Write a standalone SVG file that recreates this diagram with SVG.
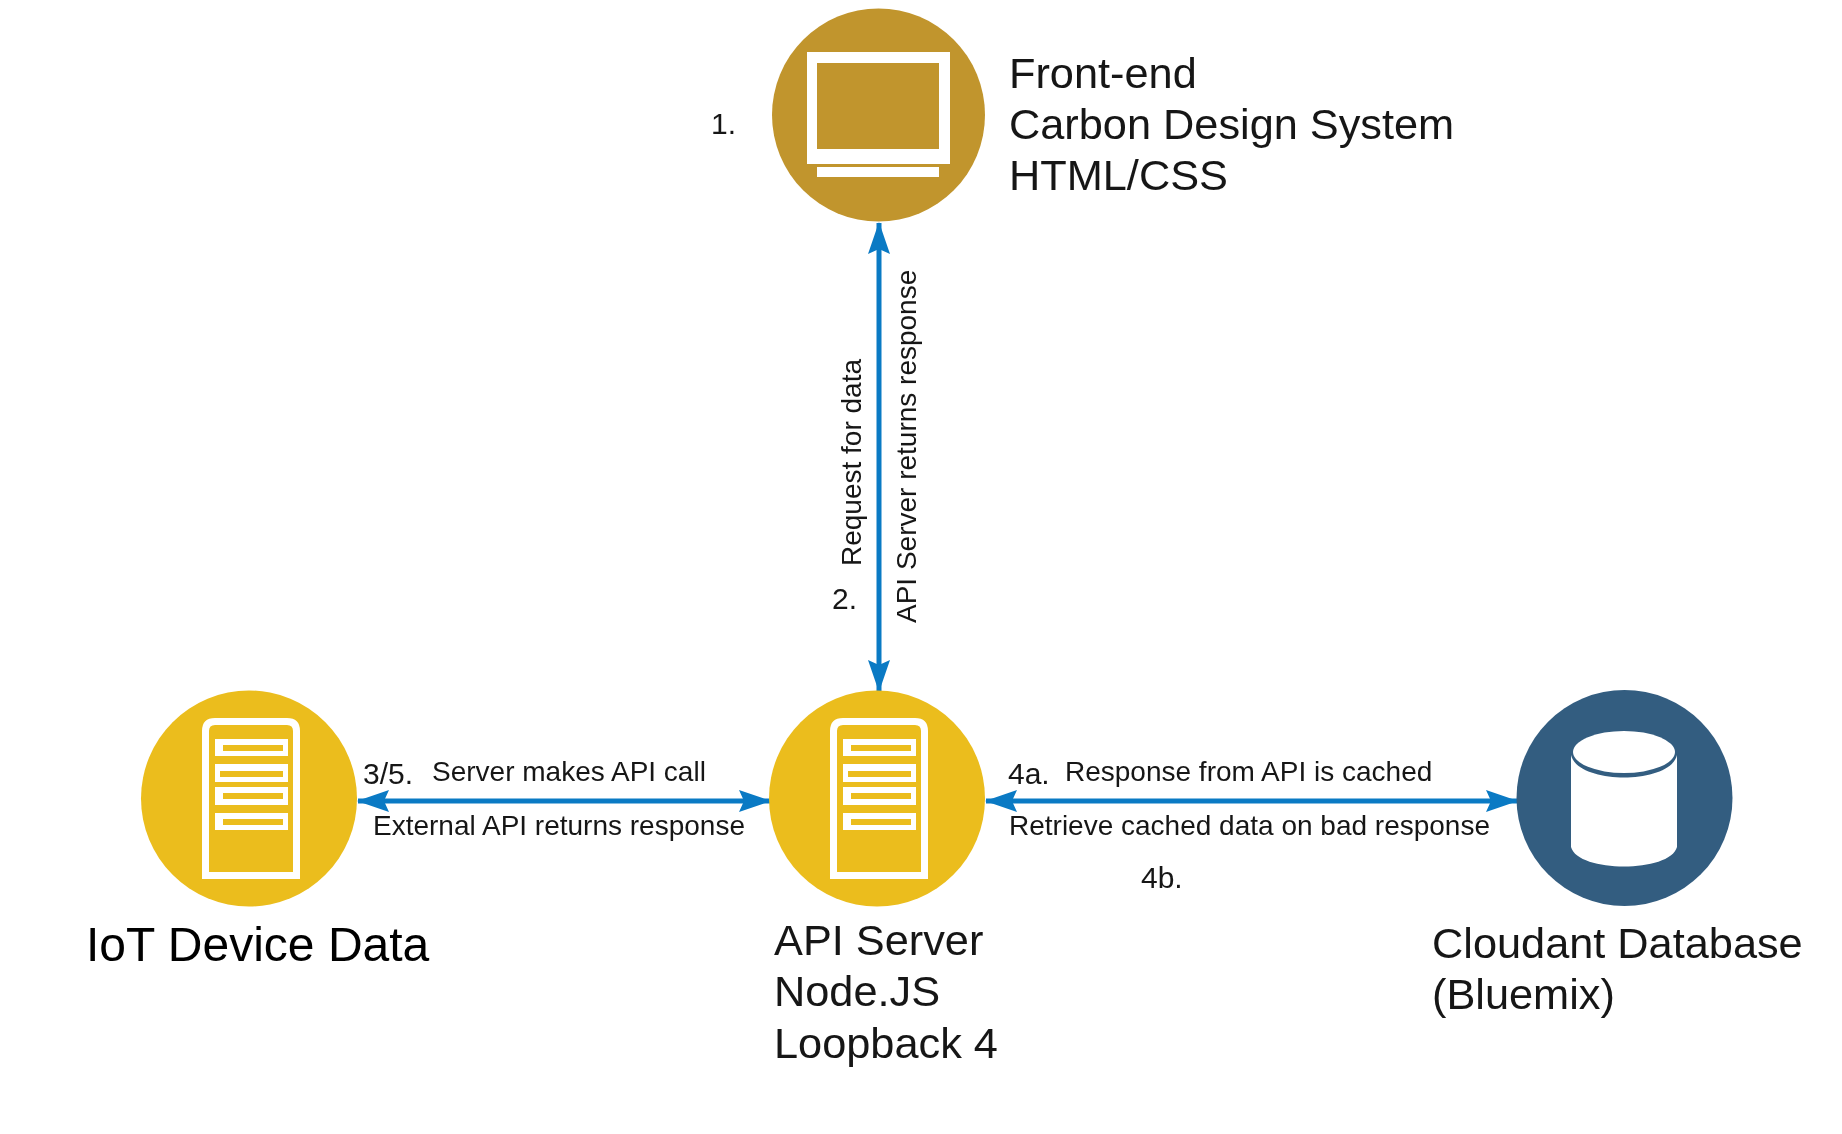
<svg xmlns="http://www.w3.org/2000/svg" width="1842" height="1134" viewBox="0 0 1842 1134">
<style>
text{font-family:"Liberation Sans",Arial,sans-serif;fill:#161616;filter:url(#soft)}
.lg{font-size:43.300px}
.sm{font-size:28px}
.num{font-size:30px}
.conn{stroke:#0a7ac4;stroke-width:5;fill:none;marker-start:url(#a);marker-end:url(#a)}
.w{fill:#fff}
.srv{fill:none;stroke:#fff;stroke-width:7}
</style>
<defs>
<filter id="soft" x="-5%" y="-20%" width="110%" height="140%"><feGaussianBlur stdDeviation="0.6"/></filter>
<marker id="a" viewBox="0 0 32 24" refX="31" refY="12" markerWidth="32" markerHeight="24" markerUnits="userSpaceOnUse" orient="auto-start-reverse"><path d="M0 1L32 12L0 23L5 12Z" fill="#0a7ac4"/></marker>
<g id="server">
<path class="srv" d="M205.500 875.500V731Q205.500 721.500 215 721.500H287Q296.500 721.500 296.500 731V875.500Z"/>
<path class="w" fill-rule="evenodd" d="M215 739H288V756H215ZM223 745V751H283V745ZM215 764H288V782H215ZM220 771V777H283V771ZM215 787H288V805H215ZM223 793V799H283V793ZM215 813H288V830H215ZM223 819V825H283V819Z"/>
</g>
</defs>
<rect width="1842" height="1134" fill="#fff"/>
<g id="connectors">
<path class="conn" d="M879 223V691"/>
<path class="conn" d="M358 801H770"/>
<path class="conn" d="M986 801H1517"/>
</g>
<g id="frontend">
<circle cx="878.500" cy="115" r="106.500" fill="#c1952d"/>
<path class="w" fill-rule="evenodd" d="M807 52H950V164H807ZM817 63V149H939V63Z"/>
<rect class="w" x="817" y="167" width="122" height="10"/>
<text class="lg" x="1009" y="88">Front-end</text>
<text class="lg" x="1009" y="139">Carbon Design System</text>
<text class="lg" x="1009" y="190">HTML/CSS</text>
</g>
<g id="iot">
<circle cx="249" cy="798.500" r="108" fill="#ebbd1d"/>
<use href="#server"/>
<text x="86" y="961" font-size="48" style="fill:#000">IoT Device Data</text>
</g>
<g id="api">
<circle cx="877" cy="798.500" r="108" fill="#ebbd1d"/>
<use href="#server" x="628"/>
<text class="lg" x="774" y="955">API Server</text>
<text class="lg" x="774" y="1006">Node.JS</text>
<text class="lg" x="774" y="1058">Loopback 4</text>
</g>
<g id="cloudant">
<circle cx="1624.500" cy="798" r="108" fill="#335d80"/>
<path class="w" d="M1571 755C1578 785 1670 785 1677 755V847C1670 873 1578 873 1571 847Z"/>
<ellipse class="w" cx="1624" cy="752" rx="51" ry="21"/>
<text class="lg" x="1432" y="958">Cloudant Database</text>
<text class="lg" x="1432" y="1009">(Bluemix)</text>
</g>
<g id="labels">
<text class="num" x="711" y="134">1.</text>
<text class="num" x="832" y="609">2.</text>
<text class="sm" transform="translate(861 566) rotate(-90)">Request for data</text>
<text class="sm" transform="translate(916 623) rotate(-90)">API Server returns response</text>
<text class="num" x="363" y="784">3/5.</text>
<text class="sm" x="432" y="781">Server makes API call</text>
<text class="sm" x="373" y="835">External API returns response</text>
<text class="num" x="1008" y="784">4a.</text>
<text class="sm" x="1065" y="781">Response from API is cached</text>
<text class="sm" x="1009" y="835">Retrieve cached data on bad response</text>
<text class="num" x="1141" y="888">4b.</text>
</g>
</svg>
